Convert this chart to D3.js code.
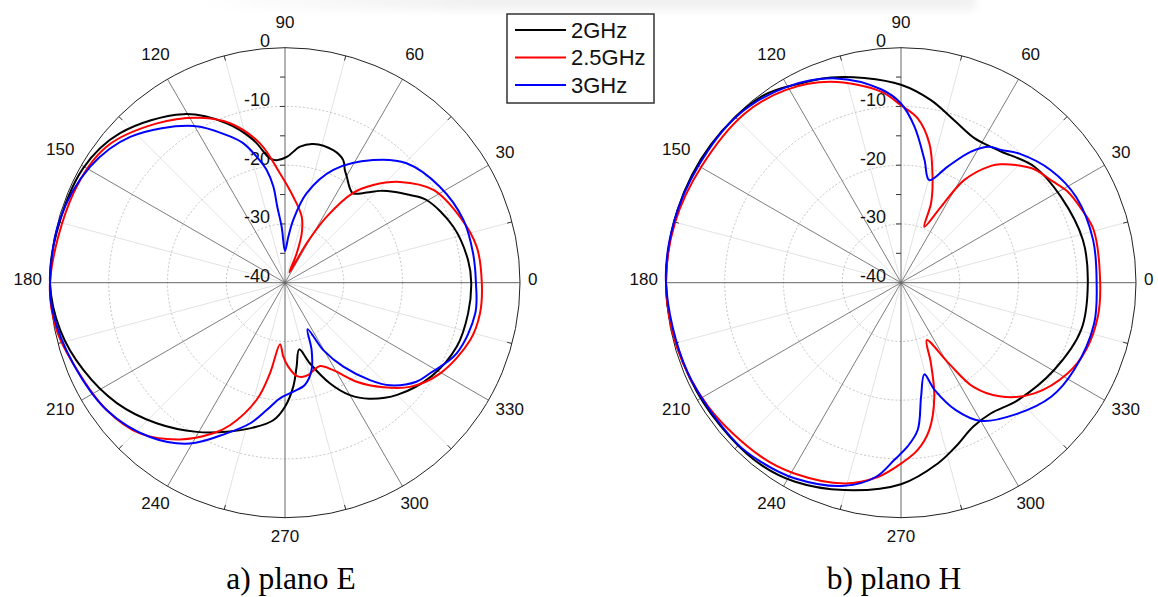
<!DOCTYPE html>
<html><head><meta charset="utf-8">
<script src="https://cdn.jsdelivr.net/npm/d3@7"></script>
<style>body{margin:0;background:#fff;overflow:hidden}</style>
</head><body>
<svg id="chart" width="1158" height="597"></svg>
<script>
// ---------- data (angle in degrees CCW from 0, gain in dB) ----------
const angleTicks = [0, 30, 60, 90, 120, 150, 180, 210, 240, 270, 300, 330];
const minorAngleTicks = [15, 45, 75, 105, 135, 165, 195, 225, 255, 285, 315, 345];
const radialTicks = [0, -10, -20, -30, -40];
const radialMinorTicks = [-5, -15, -25, -35];
const seriesNames = ["2GHz", "2.5GHz", "3GHz"];
const seriesColors = ["#000000", "#ff0000", "#0000ff"];
const captions = ["a) plano E", "b) plano H"];

const planeE_2GHz = [[0,-8.3],[7,-8.6],[18.4,-9.8],[30.3,-12.1],[35,-14.0],[40,-15.9],[44,-17.5],[47.8,-19.3],[52.8,-20.9],[55.5,-20.5],[59.8,-19.1],[62,-18.3],[64.6,-16.9],[70,-16.0],[78.5,-15.9],[83.7,-16.7],[89.2,-18.6],[93.9,-19.1],[96.9,-18.7],[102.5,-15.1],[110.1,-11.1],[121.1,-6.5],[137.8,-2.1],[150.5,-0.5],[167.8,-0.2],[180,0],[191.9,-0.9],[203.4,-2.6],[215.6,-4.8],[227.6,-7.6],[239.4,-10.5],[249.7,-13.0],[256.5,-14.5],[265.1,-16.5],[270,-18.9],[274.6,-22.3],[277.9,-25.6],[282,-28.4],[287.2,-25.6],[294.1,-21.2],[300,-17.9],[306,-15.6],[315,-13.0],[327.5,-10.4],[339.6,-8.8],[350.5,-8.4]];
const planeE_25GHz = [[0,-6.5],[10.6,-6.8],[20.7,-8.2],[32,-10.2],[41.3,-14.0],[47.9,-17.6],[52.8,-20.8],[57.7,-26.7],[61.2,-32.3],[66.7,-38.1],[68.3,-34.6],[71.3,-31.1],[75.8,-28.4],[84.5,-25.3],[92.6,-21.4],[100.2,-15.9],[109,-11.3],[117.3,-8.4],[128.8,-5.2],[142.7,-1.8],[157.1,-0.9],[180,0],[191.7,-0.3],[202.7,-1.6],[215.5,-2.7],[226.1,-4.4],[236.2,-7.9],[244.5,-11.6],[248.9,-14.0],[256.4,-19.5],[260.6,-24.4],[265.4,-29.5],[268.7,-27.4],[272.2,-25.7],[277.1,-24.0],[280.1,-23.7],[284.2,-23.8],[288,-24.3],[292.8,-24.6],[298.9,-23.0],[305.9,-19.2],[313.2,-15.6],[320.2,-12.3],[329.7,-9.4],[342.8,-7.0],[351.1,-6.4]];
const planeE_3GHz = [[0,-7.5],[8.9,-7.6],[19.4,-7.8],[31.8,-9.0],[44.5,-11.0],[54.3,-14.3],[66.8,-19.1],[76.4,-24.3],[82.5,-29.2],[85.9,-32.2],[90,-34.6],[93.4,-30.5],[95.8,-27.0],[96.9,-23.5],[99.2,-20.6],[102.7,-18.0],[106.7,-15.2],[110.6,-13.4],[120.3,-9.1],[136.7,-3.8],[149.3,-1.4],[164.4,-0.2],[180,0],[187.5,-0.2],[200.8,-1.4],[215.5,-2.7],[228.8,-5.1],[239.4,-8.2],[248.8,-12.5],[256,-15.3],[261.8,-18.1],[267.5,-20.3],[274.4,-21.4],[281.1,-22.3],[287,-24.5],[291.6,-27.7],[295.9,-31.2],[299.6,-26.8],[304.8,-22.6],[311.1,-18.0],[315.7,-15.0],[323,-12.0],[328,-10.9],[337.6,-8.4],[350.8,-7.2]];

const planeH_2GHz = [[0,-8.2],[13.2,-8.2],[28.3,-9.1],[41,-9.9],[52.5,-11.9],[57.1,-12.3],[63.1,-12.4],[71.9,-10.9],[80.7,-8.5],[90,-6.3],[100.2,-4.6],[108.8,-3.1],[116.8,-2.0],[126.9,-0.4],[144,0],[162,0],[180,0],[192,-0.3],[208,-0.6],[222,-0.8],[232.5,-0.9],[241.8,-1.6],[254.7,-3.4],[270,-5.7],[281.5,-8.6],[288.5,-10.6],[296.7,-12.6],[304.6,-13.0],[314.9,-11.8],[330.3,-10.0],[345.3,-8.3]];
const planeH_25GHz = [[0,-6.1],[15.3,-6.0],[22,-6.8],[28.8,-7.7],[34,-9.0],[40.4,-10.2],[45.7,-12.0],[49.8,-13.6],[52.4,-14.9],[58.4,-19.5],[62.2,-25.4],[67.4,-29.7],[69.3,-25.5],[73.4,-21.2],[78.5,-15.8],[84.2,-11.9],[90,-9.8],[96,-7.3],[109.2,-3.8],[120.8,-1.8],[132.9,-0.8],[149.8,-0.7],[165,-0.2],[180,0],[195.9,-0.3],[212.8,-1.0],[231.2,-2.0],[240.8,-2.8],[254.2,-4.5],[263.2,-6.7],[270.5,-9.4],[275.7,-11.4],[280.9,-14.5],[286.3,-19.8],[290.4,-25.4],[294.2,-29.3],[300.6,-24.1],[304.8,-18.4],[311.3,-14.2],[320.3,-10.5],[331.5,-7.7],[340,-6.5],[350.2,-6.0]];
const planeH_3GHz = [[0,-6.7],[12.5,-6.5],[26,-6.8],[36.9,-8.1],[47.5,-10.2],[53,-11.7],[57,-12.4],[61.9,-14.7],[68.1,-18.7],[74.6,-21.9],[79.2,-18.7],[85.1,-13.3],[90,-9.5],[95.9,-6.9],[107.7,-3.5],[120.4,-1.4],[134.7,-0.2],[150.3,-0.2],[165,0],[180,0],[202.6,-0.6],[224.3,-0.9],[232,-1.3],[241.4,-2.1],[254.4,-4.1],[262.7,-6.7],[267.8,-9.8],[272.3,-12.1],[276.5,-14.8],[280,-20.3],[284.3,-23.9],[287.4,-20.9],[293.3,-16.4],[300.1,-12.8],[311,-10.3],[322.8,-7.9],[333.3,-7.0],[348.1,-6.4]];

// ---------- drawing ----------
const svg = d3.select("#chart");
svg.append("rect").attr("width", 1158).attr("height", 597).attr("fill", "#fff");

// faint shadow band at the very top
const defs = svg.append("defs");
defs.append("filter").attr("id", "blur").attr("x", "-20%").attr("y", "-300%").attr("width", "140%").attr("height", "700%")
  .append("feGaussianBlur").attr("stdDeviation", 4);
const grad = defs.append("linearGradient").attr("id", "shade").attr("x1", "0").attr("x2", "1").attr("y1", "0").attr("y2", "0");
grad.append("stop").attr("offset", "0").attr("stop-color", "#f1f1f1").attr("stop-opacity", 0);
grad.append("stop").attr("offset", "0.35").attr("stop-color", "#f1f1f1").attr("stop-opacity", 1);
grad.append("stop").attr("offset", "1").attr("stop-color", "#f1f1f1").attr("stop-opacity", 1);
svg.append("rect").attr("x", 190).attr("y", -20).attr("width", 785).attr("height", 30)
  .attr("fill", "url(#shade)").attr("filter", "url(#blur)");

const R = 235;
const rScale = d3.scaleLinear().domain([-40, 0]).range([0, R]).clamp(true);
const rad = a => a * Math.PI / 180;
const labelFont = "'Liberation Sans', Arial, sans-serif";

function drawPolar(cx, cy, seriesList, caption, capDx) {
  const g = svg.append("g").attr("transform", `translate(${cx},${cy})`);
  // minor spokes
  g.selectAll(".minorSpoke").data(minorAngleTicks).join("line")
    .attr("x1", 0).attr("y1", 0)
    .attr("x2", a => R * Math.cos(rad(a))).attr("y2", a => -R * Math.sin(rad(a)))
    .attr("stroke", "#dadada").attr("stroke-width", 0.8);
  // dotted rings
  g.selectAll(".ring").data(radialTicks.filter(t => t > -40 && t < 0)).join("circle")
    .attr("r", d => rScale(d)).attr("fill", "none")
    .attr("stroke", "#b4b4b4").attr("stroke-width", 0.8).attr("stroke-dasharray", "2,2");
  // major spokes
  g.selectAll(".spoke").data(angleTicks).join("line")
    .attr("x1", 0).attr("y1", 0)
    .attr("x2", a => R * Math.cos(rad(a))).attr("y2", a => -R * Math.sin(rad(a)))
    .attr("stroke", a => (a % 90 === 0 ? "#555" : "#6e6e6e")).attr("stroke-width", 0.9);
  // outer circle
  g.append("circle").attr("r", R).attr("fill", "none").attr("stroke", "#222").attr("stroke-width", 1);
  // minor ticks on outer circle
  g.selectAll(".otick").data(minorAngleTicks).join("line")
    .attr("x1", a => (R - 5) * Math.cos(rad(a))).attr("y1", a => -(R - 5) * Math.sin(rad(a)))
    .attr("x2", a => R * Math.cos(rad(a))).attr("y2", a => -R * Math.sin(rad(a)))
    .attr("stroke", "#333").attr("stroke-width", 1);
  // radial ticks on the 90 deg axis
  g.selectAll(".rtick").data(radialTicks.concat(radialMinorTicks).filter(t => t > -40 && t < 0)).join("line")
    .attr("x1", -5).attr("x2", 0)
    .attr("y1", d => -rScale(d)).attr("y2", d => -rScale(d))
    .attr("stroke", "#333").attr("stroke-width", 1);
  // radial labels
  g.selectAll(".rlab").data(radialTicks).join("text")
    .attr("x", -15).attr("y", d => -rScale(d) - 6.5)
    .attr("text-anchor", "end").attr("dominant-baseline", "central")
    .attr("font-family", labelFont).attr("font-size", 18).attr("fill", "#111")
    .text(d => d);
  // angle labels
  g.selectAll(".alab").data(angleTicks).join("text")
    .attr("transform", a => {
      const c = Math.cos(rad(a)), s = Math.sin(rad(a));
      const hw = String(a).length * 4.75, hh = 14;
      const e = Math.min(Math.abs(c) > 1e-6 ? hw / Math.abs(c) : 1e9, Math.abs(s) > 1e-6 ? hh / Math.abs(s) : 1e9);
      const d = R + 8 + e;
      return `translate(${d * c},${-d * s - 3.3})`;
    })
    .attr("text-anchor", "middle").attr("dominant-baseline", "central")
    .attr("font-family", labelFont).attr("font-size", 17).attr("fill", "#111")
    .text(a => a);
  // curves
  const line = d3.lineRadial()
    .angle(d => rad(90 - d[0]))
    .radius(d => rScale(d[1]))
    .curve(d3.curveCatmullRomClosed.alpha(0.5));
  seriesList.forEach((s, i) => {
    g.append("path").attr("d", line(s)).attr("fill", "none")
      .attr("stroke", seriesColors[i]).attr("stroke-width", 2).attr("stroke-linejoin", "round");
  });
  // caption
  svg.append("text").attr("x", cx + capDx).attr("y", 589)
    .attr("text-anchor", "middle")
    .attr("font-family", "'Liberation Serif', 'Times New Roman', serif").attr("font-size", 31.5).attr("fill", "#000")
    .text(caption);
}

drawPolar(285, 282.7, [planeE_2GHz, planeE_25GHz, planeE_3GHz], captions[0], 6);
drawPolar(901, 282.7, [planeH_2GHz, planeH_25GHz, planeH_3GHz], captions[1], -7);

// legend
const lg = svg.append("g");
lg.append("rect").attr("x", 507).attr("y", 14).attr("width", 147).attr("height", 89)
  .attr("fill", "#fff").attr("stroke", "#333").attr("stroke-width", 1.5);
seriesNames.forEach((n, i) => {
  const y = 30 + i * 27.5;
  lg.append("line").attr("x1", 515).attr("x2", 566).attr("y1", y).attr("y2", y)
    .attr("stroke", seriesColors[i]).attr("stroke-width", 2);
  lg.append("text").attr("x", 571).attr("y", y).attr("dominant-baseline", "central")
    .attr("font-family", labelFont).attr("font-size", 22).attr("fill", "#111").text(n);
});
</script>
</body></html>
